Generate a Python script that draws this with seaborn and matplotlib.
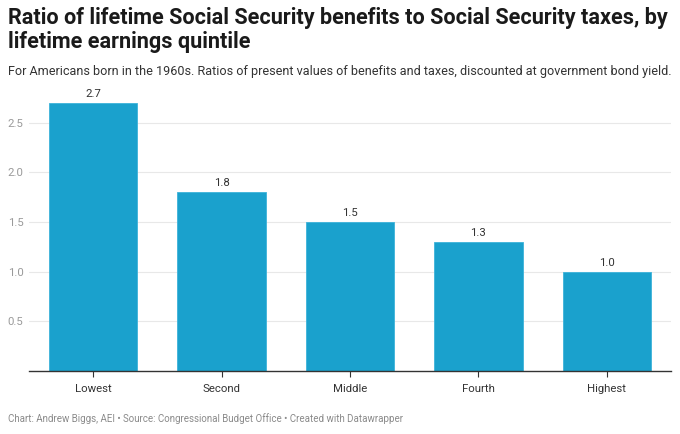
import matplotlib
matplotlib.use("Agg")
import matplotlib.pyplot as plt
import seaborn as sns
import pandas as pd

categories = ["Lowest", "Second", "Middle", "Fourth", "Highest"]
values = [2.7, 1.8, 1.5, 1.3, 1.0]
yticks = [0.5, 1.0, 1.5, 2.0, 2.5]
value_labels = ["2.7", "1.8", "1.5", "1.3", "1.0"]

title = "Ratio of lifetime Social Security benefits to Social Security taxes, by\nlifetime earnings quintile"
subtitle = "For Americans born in the 1960s. Ratios of present values of benefits and taxes, discounted at government bond yield."
footer = "Chart: Andrew Biggs, AEI \u2022 Source: Congressional Budget Office \u2022 Created with Datawrapper"

sns.set_theme(style="white")
plt.rcParams['font.family'] = ['Roboto', 'DejaVu Sans']

df = pd.DataFrame({"quintile": categories, "ratio": values})

W, H = 680, 434
fig = plt.figure(figsize=(W / 100, H / 100), dpi=100)
ax = fig.add_axes([29 / W, 1 - 371 / H, (671 - 29) / W, (371 - 98) / H])

sns.barplot(data=df, x="quintile", y="ratio", color="#1aa1cd", width=0.69,
            saturation=1, ax=ax, order=categories, edgecolor="#3cb3da", linewidth=0.6)

ax.set_ylim(0, 2.75)
ax.set_xlim(-0.5, 4.5)
ax.set_yticks(yticks)
ax.set_yticklabels([f"{t:.1f}" for t in yticks])
for t in yticks:
    ax.axhline(t, color="#e8e8e8", lw=0.8, zorder=0)
ax.set_axisbelow(True)

for s in ["top", "right", "left"]:
    ax.spines[s].set_visible(False)
ax.spines["bottom"].set_color("#333333")
ax.spines["bottom"].set_linewidth(1.0)
ax.set_xlabel("")
ax.set_ylabel("")
ax.tick_params(axis="y", length=0, labelsize=8.2, labelcolor="#9a9a9a", pad=4)
ax.tick_params(axis="x", length=4, width=0.8, color="#333333", labelsize=8.2,
               labelcolor="#333333", pad=5, bottom=True)
for lab in ax.get_yticklabels():
    lab.set_horizontalalignment("right")

for i, (v, lab) in enumerate(zip(values, value_labels)):
    ax.text(i, v + 0.04, lab, ha="center", va="bottom", fontsize=8.2, color="#333333")

fig.text(8 / W, 1 - 7 / H, title, ha="left", va="top", fontsize=15.6,
         fontweight="bold", color="#1a1a1a", linespacing=1.1)
fig.text(8 / W, 1 - 65 / H, subtitle, ha="left", va="top", fontsize=9.05, color="#333333")
fig.text(8 / W, 1 - 413 / H, footer, ha="left", va="top", fontsize=7.05, color="#8a8a8a")

fig.savefig("out.png", dpi=100)
